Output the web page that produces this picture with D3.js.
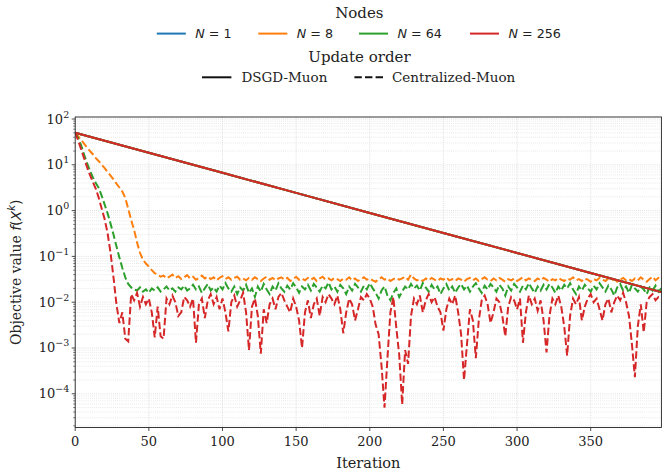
<!DOCTYPE html>
<html><head><meta charset="utf-8">
<script src="https://cdn.jsdelivr.net/npm/d3@7"></script>
<style>body{margin:0;background:#fff}</style>
</head><body>
<svg id="c" width="666" height="474"></svg>
<script>
// ---------- data ----------
const iterations = d3.range(0, 400, 2); // 0,2,...,398
const dsgdIter = [0, 50, 100, 150, 200, 250, 300, 350, 398];
const dsgdValues = [50, 18.3, 6.7, 2.44, 0.89, 0.325, 0.119, 0.0433, 0.0166];

const nodeLabels = ["1", "8", "64", "256"];
const nodeColors = ["#1f77b4", "#ff7f0e", "#2ca02c", "#d62728"];

const centralN8 = [
50,42,35,29,24,20,17,14,12,10,
8.5,7.0,5.8,4.8,3.9,3.2,2.6,1.9,1.1,0.62,
0.38,0.2,0.12,0.085,0.07,0.06,0.05,0.043,0.04,0.036,
0.038,0.033,0.036,0.04,0.034,0.037,0.032,0.035,0.039,0.033,
0.036,0.031,0.034,0.038,0.033,0.036,0.032,0.035,0.03,0.034,
0.037,0.032,0.035,0.031,0.034,0.036,0.031,0.033,0.03,0.034,
0.031,0.035,0.032,0.029,0.033,0.036,0.031,0.034,0.03,0.033,
0.035,0.031,0.034,0.029,0.032,0.036,0.031,0.033,0.03,0.034,
0.031,0.034,0.029,0.033,0.036,0.031,0.033,0.03,0.034,0.032,
0.029,0.033,0.031,0.035,0.03,0.033,0.029,0.032,0.035,0.031,
0.033,0.03,0.028,0.032,0.035,0.031,0.033,0.029,0.032,0.034,
0.031,0.033,0.036,0.031,0.04,0.033,0.03,0.032,0.029,0.033,
0.03,0.034,0.031,0.029,0.033,0.031,0.035,0.03,0.032,0.029,
0.033,0.031,0.028,0.032,0.034,0.03,0.033,0.029,0.032,0.035,
0.031,0.029,0.033,0.03,0.034,0.031,0.028,0.032,0.03,0.033,
0.029,0.032,0.035,0.03,0.033,0.031,0.029,0.033,0.03,0.034,
0.031,0.028,0.032,0.03,0.034,0.031,0.029,0.033,0.031,0.035,
0.03,0.032,0.029,0.033,0.031,0.028,0.032,0.03,0.034,0.031,
0.029,0.033,0.03,0.032,0.028,0.031,0.034,0.03,0.032,0.029,
0.033,0.03,0.035,0.031,0.028,0.032,0.036,0.03,0.034,0.031];

const centralN64 = [
50,38,27,17,11,7.5,5.3,4.0,3.1,2.1,
1.35,0.87,0.52,0.30,0.166,0.095,0.056,0.035,0.025,0.021,
0.019,0.018,0.021,0.017,0.019,0.016,0.02,0.018,0.021,0.017,
0.019,0.022,0.018,0.02,0.017,0.021,0.019,0.023,0.018,0.02,
0.024,0.019,0.022,0.016,0.02,0.025,0.018,0.021,0.017,0.023,
0.019,0.026,0.02,0.017,0.022,0.015,0.021,0.018,0.024,0.016,
0.02,0.013,0.022,0.017,0.025,0.019,0.015,0.022,0.018,0.026,
0.02,0.017,0.023,0.019,0.026,0.021,0.016,0.022,0.019,0.024,
0.018,0.025,0.021,0.017,0.023,0.02,0.027,0.019,0.022,0.017,
0.024,0.02,0.015,0.022,0.018,0.025,0.021,0.017,0.023,0.019,
0.026,0.02,0.016,0.012,0.018,0.022,0.014,0.011,0.016,0.02,
0.013,0.017,0.022,0.019,0.025,0.02,0.023,0.018,0.026,0.021,
0.017,0.024,0.019,0.022,0.015,0.02,0.025,0.018,0.022,0.016,
0.021,0.025,0.019,0.023,0.017,0.022,0.026,0.02,0.016,0.023,
0.019,0.025,0.021,0.017,0.024,0.02,0.014,0.022,0.018,0.025,
0.021,0.017,0.023,0.019,0.026,0.02,0.016,0.022,0.018,0.024,
0.019,0.025,0.021,0.016,0.022,0.018,0.024,0.02,0.026,0.019,
0.015,0.022,0.018,0.024,0.02,0.017,0.023,0.019,0.026,0.021,
0.017,0.023,0.019,0.014,0.021,0.025,0.018,0.022,0.016,0.024,
0.02,0.017,0.022,0.019,0.015,0.021,0.018,0.023,0.017,0.02];

const centralN256 = [
50,34,22,14,9,6,4.2,3.0,1.9,1.1,
0.65,0.32,0.12,0.035,0.009,0.0035,0.006,0.0016,0.0014,0.015,
0.011,0.016,0.008,0.013,0.009,0.012,0.006,0.0017,0.008,0.0018,
0.0016,0.012,0.009,0.014,0.01,0.005,0.006,0.013,0.011,0.008,
0.012,0.0013,0.009,0.012,0.0045,0.011,0.015,0.009,0.013,0.007,
0.012,0.006,0.0023,0.01,0.014,0.008,0.011,0.016,0.006,0.0009,
0.008,0.012,0.005,0.00075,0.007,0.0035,0.009,0.012,0.007,0.013,
0.016,0.011,0.008,0.006,0.012,0.008,0.004,0.001,0.006,0.011,
0.0045,0.009,0.012,0.005,0.013,0.01,0.015,0.012,0.009,0.014,
0.007,0.0021,0.006,0.012,0.009,0.004,0.007,0.013,0.011,0.015,
0.012,0.008,0.0032,0.002,0.0004,0.00005,0.0006,0.006,0.013,0.0028,
0.0007,0.000058,0.0009,0.00045,0.005,0.012,0.009,0.014,0.006,0.011,
0.015,0.01,0.013,0.008,0.006,0.0024,0.007,0.012,0.009,0.014,
0.006,0.002,0.0002,0.0012,0.007,0.004,0.0006,0.004,0.011,0.014,
0.009,0.0035,0.006,0.012,0.01,0.005,0.0018,0.008,0.013,0.011,
0.007,0.012,0.0013,0.006,0.014,0.009,0.012,0.0065,0.011,0.004,
0.0008,0.005,0.012,0.009,0.014,0.008,0.003,0.00068,0.005,0.012,
0.009,0.013,0.004,0.008,0.012,0.015,0.01,0.012,0.007,0.004,
0.009,0.012,0.006,0.01,0.014,0.011,0.016,0.01,0.005,0.0012,
0.00023,0.003,0.009,0.0022,0.01,0.013,0.015,0.011,0.013,0.012];

const xTicks = [0, 50, 100, 150, 200, 250, 300, 350];
const yTickExps = [-4, -3, -2, -1, 0, 1, 2];

// ---------- layout ----------
const L = 75.2, R = 661.4, T = 117, B = 427.5;
const svg = d3.select("#c");
const serif = "'DejaVu Serif', serif";
const sans = "'DejaVu Sans', sans-serif";

const x = d3.scaleLinear().domain([0, 398]).range([L, R]);
const y = d3.scaleLog().domain([Math.pow(10, -4.736), Math.pow(10, 2.044)]).range([B, T]);

// grid
const grid = svg.append("g");
const minorVals = [];
for (let e = -5; e <= 2; e++) for (let m = 2; m <= 9; m++) {
  const v = m * Math.pow(10, e);
  if (v >= y.domain()[0] && v <= y.domain()[1]) minorVals.push(v);
}
grid.selectAll("line.mn").data(minorVals).join("line")
  .attr("x1", L).attr("x2", R).attr("y1", d => y(d)).attr("y2", d => y(d))
  .attr("stroke", "#dcdcdc").attr("stroke-width", 0.8).attr("stroke-dasharray", "0.8,1.3");
grid.selectAll("line.mj").data(yTickExps).join("line")
  .attr("x1", L).attr("x2", R).attr("y1", d => y(Math.pow(10, d))).attr("y2", d => y(Math.pow(10, d)))
  .attr("stroke", "#cfcfcf").attr("stroke-width", 0.8).attr("stroke-dasharray", "0.8,1.3");
grid.selectAll("line.vx").data(xTicks).join("line")
  .attr("x1", d => x(d)).attr("x2", d => x(d)).attr("y1", T).attr("y2", B)
  .attr("stroke", "#cfcfcf").attr("stroke-width", 0.8).attr("stroke-dasharray", "0.8,1.3");

// clip
svg.append("clipPath").attr("id", "clip").append("rect")
  .attr("x", L).attr("y", T).attr("width", R - L).attr("height", B - T);

const line = d3.line().x(d => x(d[0])).y(d => y(d[1]));
const plot = svg.append("g").attr("clip-path", "url(#clip)");

const dsgdPts = dsgdIter.map((it, i) => [it, dsgdValues[i]]);
const centralSeries = [
  dsgdIter.map((it, i) => [it, dsgdValues[i]]),
  iterations.map((it, i) => [it, centralN8[i]]),
  iterations.map((it, i) => [it, centralN64[i]]),
  iterations.map((it, i) => [it, centralN256[i]])
];
nodeColors.forEach((c, k) => {
  plot.append("path").attr("d", line(dsgdPts)).attr("fill", "none")
    .attr("stroke", c).attr("stroke-width", 2);
  plot.append("path").attr("d", line(centralSeries[k])).attr("fill", "none")
    .attr("stroke", c).attr("stroke-width", 2).attr("stroke-dasharray", "7.4,3.2");
});

// spines
svg.append("rect").attr("x", L).attr("y", T).attr("width", R - L).attr("height", B - T)
  .attr("fill", "none").attr("stroke", "#222").attr("stroke-width", 0.9);

// x axis
const xa = svg.append("g");
xa.selectAll("line").data(xTicks).join("line")
  .attr("x1", d => x(d)).attr("x2", d => x(d)).attr("y1", B).attr("y2", B + 3.5)
  .attr("stroke", "#222").attr("stroke-width", 0.8);
xa.selectAll("text").data(xTicks).join("text")
  .attr("x", d => x(d)).attr("y", B + 18).attr("text-anchor", "middle")
  .attr("font-family", serif).attr("font-size", 13).attr("fill", "#222").text(d => d);
svg.append("text").attr("x", (L + R) / 2).attr("y", 468).attr("text-anchor", "middle")
  .attr("font-family", serif).attr("font-size", 14.5).attr("fill", "#222").text("Iteration");

// y axis
const ya = svg.append("g");
ya.selectAll("line.mn").data(minorVals).join("line")
  .attr("x1", L - 2).attr("x2", L).attr("y1", d => y(d)).attr("y2", d => y(d))
  .attr("stroke", "#222").attr("stroke-width", 0.6);
ya.selectAll("line.mj").data(yTickExps).join("line")
  .attr("x1", L - 3.5).attr("x2", L).attr("y1", d => y(Math.pow(10, d))).attr("y2", d => y(Math.pow(10, d)))
  .attr("stroke", "#222").attr("stroke-width", 0.8);
yTickExps.forEach(e => {
  const t = ya.append("text").attr("x", L - 6).attr("y", y(Math.pow(10, e)) + 4.5)
    .attr("text-anchor", "end").attr("font-family", serif).attr("font-size", 13).attr("fill", "#222");
  t.append("tspan").text("10");
  t.append("tspan").attr("dy", -6).attr("font-size", 9.5).text(e < 0 ? "\u2212" + (-e) : String(e));
});
const yl = svg.append("text").attr("transform", `translate(21,${(T + B) / 2}) rotate(-90)`)
  .attr("text-anchor", "middle").attr("font-family", serif).attr("font-size", 14).attr("fill", "#222");
yl.append("tspan").text("Objective value ");
yl.append("tspan").attr("font-family", sans).attr("font-style", "italic").text("f");
yl.append("tspan").attr("font-family", sans).text("(");
yl.append("tspan").attr("font-family", sans).attr("font-style", "italic").text("X");
yl.append("tspan").attr("font-family", sans).attr("font-style", "italic").attr("font-size", 10).attr("dy", -6).text("k");
yl.append("tspan").attr("font-family", sans).attr("dy", 6).text(")");

// legend
const lg = svg.append("g");
const cx = 359.4;
lg.append("text").attr("x", cx).attr("y", 18).attr("text-anchor", "middle")
  .attr("font-family", serif).attr("font-size", 15).attr("fill", "#222").text("Nodes");
const nodeLineX = [156.8, 258.3, 359, 470];
nodeLabels.forEach((lab, k) => {
  lg.append("line").attr("x1", nodeLineX[k]).attr("x2", nodeLineX[k] + 29).attr("y1", 33.6).attr("y2", 33.6)
    .attr("stroke", nodeColors[k]).attr("stroke-width", 2);
  const t = lg.append("text").attr("x", nodeLineX[k] + 38.5).attr("y", 38.3).attr("font-family", sans)
    .attr("font-size", 12.7).attr("fill", "#222");
  t.append("tspan").attr("font-style", "italic").text("N");
  t.append("tspan").text(" = " + lab);
});
lg.append("text").attr("x", cx).attr("y", 61.5).attr("text-anchor", "middle")
  .attr("font-family", serif).attr("font-size", 15).attr("fill", "#222").text("Update order");
lg.append("line").attr("x1", 202).attr("x2", 231.4).attr("y1", 77.3).attr("y2", 77.3)
  .attr("stroke", "#111").attr("stroke-width", 2);
lg.append("text").attr("x", 241.5).attr("y", 82).attr("font-family", serif).attr("font-size", 13.5)
  .attr("fill", "#222").text("DSGD-Muon");
lg.append("line").attr("x1", 354.4).attr("x2", 383.4).attr("y1", 77.3).attr("y2", 77.3)
  .attr("stroke", "#111").attr("stroke-width", 2).attr("stroke-dasharray", "7.4,3.2");
lg.append("text").attr("x", 392).attr("y", 82).attr("font-family", serif).attr("font-size", 13.5)
  .attr("fill", "#222").text("Centralized-Muon");
</script>
</body></html>
